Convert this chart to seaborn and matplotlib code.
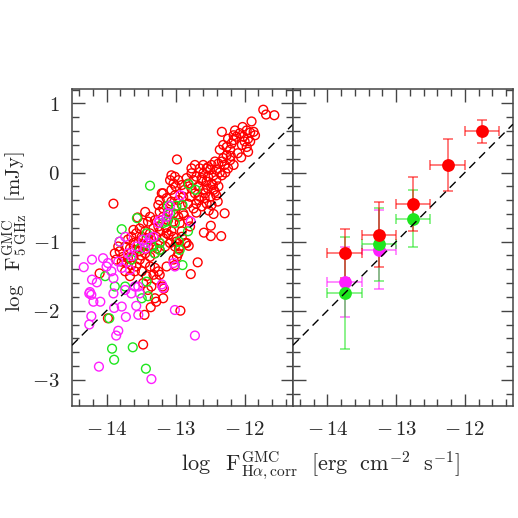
import numpy as np
import pandas as pd
import matplotlib
matplotlib.use("Agg")
import matplotlib.pyplot as plt
import seaborn as sns
from matplotlib.ticker import MultipleLocator

# ---------------- data ----------------
red_x = [-11.73, -11.69, -11.57, -11.90, -12.33, -12.98, -13.90, -12.29, -12.34, -12.49,
         -12.49, -12.59, -12.68, -12.78, -12.81, -12.84, -12.93, -13.47, -13.98, -13.18,
         -13.36, -13.45, -13.28, -13.30, -14.10, -13.19, -13.17,
         -12.03, -11.97, -11.92, -11.87, -11.85, -11.95, -12.02, -12.07, -12.00, -11.92,
         -12.04, -11.97, -12.12, -12.16, -12.14, -12.16, -12.24, -12.19, -12.26, -12.21,
         -12.31, -12.36, -12.26, -12.31, -12.21, -12.29, -12.33, -12.38, -12.43, -12.41,
         -12.24, -12.16,
         -12.72, -12.65, -12.55, -12.60, -12.53, -12.45, -12.41, -12.48, -12.55, -12.62,
         -12.70, -12.77, -12.74, -12.67, -12.60, -12.53, -12.45, -12.41, -12.50, -12.58,
         -12.65, -12.72, -12.77, -12.82, -12.84, -12.79, -12.70, -12.62, -12.55, -12.48,
         -12.74, -12.82, -12.89, -12.87, -12.91, -12.96, -13.01, -13.03, -13.06, -13.01,
         -12.96, -12.91, -12.99, -13.06, -13.13, -13.18, -13.23, -13.25, -13.18, -13.11,
         -13.03, -12.96, -12.89, -12.82, -12.94, -13.03, -13.11, -13.18, -13.23, -13.08,
         -13.06, -12.48, -12.50, -12.77, -12.60, -12.53, -12.33, -12.38, -12.79, -12.91,
         -13.44, -13.37, -13.30, -13.40, -13.47, -13.52, -13.44, -13.37, -13.32, -13.25,
         -13.23, -13.28, -13.35, -13.42, -13.49, -13.57, -13.61, -13.64, -13.69, -13.61,
         -13.54, -13.47, -13.40, -13.32, -13.23, -13.18, -13.13, -13.06, -13.03, -13.08,
         -13.15, -13.23, -13.30, -13.37, -13.44, -13.52, -13.59, -13.66, -13.73, -13.81,
         -13.76, -13.69, -13.61, -13.52, -13.44, -13.37, -13.30, -13.25, -13.32, -13.42,
         -13.49, -13.57, -13.64, -13.71, -13.78, -13.86, -13.88, -13.83, -13.59, -13.66,
         -13.73, -13.47, -13.40, -13.35, -13.28, -13.23, -13.13, -13.03, -12.96, -12.94,
         -12.99, -13.01, -12.91, -12.86, -12.95, -12.98, -13.01, -12.57, -12.43, -12.36,
         -12.10, -12.05, -11.95, -12.20, -12.28, -12.46, -12.66, -12.88, -13.14, -13.20,
         -13.00, -12.70, -12.52, -12.39, -12.45, -12.62, -13.10, -13.27, -13.50, -13.55]
red_y = [0.91, 0.84, 0.83, 0.74, 0.59, 0.19, -0.45, -0.59, -0.92, -0.77,
         -0.92, -0.87, -1.30, -1.47, -1.06, -1.02, -2.00, -2.49, -2.11, -1.82,
         -1.95, -2.06, -1.87, -1.82, -1.46, -1.65, -1.68,
         0.66, 0.61, 0.58, 0.59, 0.54, 0.49, 0.52, 0.57, 0.45, 0.45,
         0.40, 0.37, 0.52, 0.47, 0.61, 0.54, 0.49, 0.42, 0.37, 0.33,
         0.40, 0.33, 0.25, 0.21, 0.18, 0.11, 0.16, 0.13, 0.16, 0.04,
         0.06, 0.11,
         0.11, 0.06, 0.06, -0.01, -0.06, -0.04, -0.11, -0.16, -0.13, -0.11,
         -0.06, -0.01, -0.11, -0.20, -0.25, -0.23, -0.25, -0.33, -0.35, -0.37,
         -0.35, -0.30, -0.23, -0.16, -0.08, -0.35, -0.45, -0.49, -0.45, -0.47,
         -0.52, -0.45, -0.35, -0.25, -0.18, -0.11, -0.06, -0.16, -0.25, -0.33,
         -0.40, -0.47, -0.49, -0.42, -0.37, -0.30, -0.40, -0.47, -0.52, -0.57,
         -0.59, -0.64, -0.59, -0.69, -0.73, -0.71, -0.69, -0.64, -0.57, -0.11,
         -0.04, 0.11, 0.04, 0.06, 0.11, 0.08, -0.04, -0.20, -0.78, -0.85,
         -0.57, -0.64, -0.69, -0.71, -0.73, -0.81, -0.85, -0.88, -0.81, -0.78,
         -0.85, -0.93, -0.97, -0.95, -0.93, -0.88, -0.83, -0.93, -0.97, -1.02,
         -1.02, -1.05, -1.07, -1.07, -1.02, -0.95, -0.88, -0.85, -0.93, -1.02,
         -1.07, -1.12, -1.17, -1.22, -1.17, -1.14, -1.12, -1.10, -1.07, -1.14,
         -1.22, -1.24, -1.22, -1.26, -1.31, -1.36, -1.38, -1.43, -1.48, -1.50,
         -1.43, -1.36, -1.34, -1.31, -1.29, -1.26, -1.17, -1.07, -1.43, -1.50,
         -1.43, -1.60, -1.70, -1.65, -1.55, -1.48, -1.36, -1.26, -1.17, -1.07,
         -1.00, -1.07, -0.93, -1.02, -1.10, -1.22, -1.34, -0.30, -0.28, 0.00,
         0.28, 0.22, 0.30, 0.24, 0.00, -0.18, -0.40, -0.62, -0.80, -0.30,
         -0.20, -0.58, -0.55, -0.42, -0.60, -0.08, -0.90, -1.10, -1.20, -0.65]

green_x = [-13.37, -12.81, -12.71, -13.56, -13.78, -13.81, -12.99, -12.90, -13.11, -13.08,
           -13.18, -13.13, -13.01, -12.82, -13.23, -13.30, -12.94, -12.90, -13.42, -13.52,
           -13.64, -14.02, -13.88, -13.73, -13.42, -13.40, -13.49, -13.96, -13.92, -13.89,
           -13.62, -13.43, -12.95, -13.23, -13.35]
green_y = [-0.19, -0.17, -0.25, -0.66, -0.82, -1.00, -0.48, -0.47, -0.48, -0.59,
           -0.73, -0.71, -0.73, -0.85, -1.02, -1.17, -1.12, -1.34, -0.88, -1.10,
           -1.26, -1.50, -1.65, -1.65, -1.58, -1.79, -1.82, -2.11, -2.55, -2.71,
           -2.53, -2.84, -1.00, -1.12, -1.07]

magenta_x = [-14.33, -14.21, -14.21, -14.24, -14.22, -14.19, -14.25, -14.14, -14.09, -14.22,
             -14.25, -14.05, -13.98, -14.00, -13.93, -13.90, -13.83, -13.81, -13.73, -13.69,
             -13.64, -13.78, -13.66, -13.73, -13.90, -13.64, -13.59, -13.54, -13.52, -13.57,
             -13.54, -13.72, -13.78, -13.89, -13.83, -13.86, -14.11, -13.35, -13.01, -12.72,
             -13.20, -13.18, -13.44, -13.42, -13.37, -13.32, -13.25, -13.23, -13.13, -13.11,
             -13.08, -12.93, -12.78, -13.03, -13.01, -13.47, -13.57]
magenta_y = [-1.37, -1.26, -1.55, -1.73, -1.77, -1.87, -1.75, -1.59, -1.87, -2.08,
             -2.20, -1.24, -1.31, -1.36, -1.43, -1.53, -1.29, -1.00, -0.93, -1.17,
             -1.21, -1.38, -1.41, -1.70, -1.75, -1.75, -1.65, -1.65, -1.75, -1.93,
             -2.06, -2.09, -1.94, -1.96, -2.29, -2.36, -2.81, -2.99, -1.99, -2.36,
             -1.62, -1.67, -1.10, -1.02, -0.95, -0.93, -0.73, -0.69, -0.64, -0.59,
             -0.48, -0.33, -0.71, -1.31, -1.36, -0.97, -1.07]

# binned values (right panel)
bin_x_red = [-13.75, -13.25, -12.75, -12.25, -11.75]
bin_y_red = [-1.16, -0.90, -0.455, 0.11, 0.595]
bin_lo_red = [0.36, 0.47, 0.385, 0.37, 0.16]
bin_hi_red = [0.35, 0.47, 0.385, 0.37, 0.16]
bin_x_green = [-13.75, -13.25, -12.75]
bin_y_green = [-1.75, -1.04, -0.67]
bin_lo_green = [0.80, 0.53, 0.41]
bin_hi_green = [0.81, 0.53, 0.42]
bin_x_magenta = [-13.75, -13.25]
bin_y_magenta = [-1.58, -1.12]
bin_lo_magenta = [0.51, 0.56]
bin_hi_magenta = [0.50, 0.58]
bin_halfwidth = 0.25

one_to_one_offset = 12.0
xlim = (-14.5, -11.3)
ylim = (-3.38, 1.21)
xticks = [-14, -13, -12]
xtick_labels = [r'$-\,14$', r'$-\,13$', r'$-\,12$']
yticks = [-3, -2, -1, 0, 1]
ytick_labels = [r'$-3$', r'$-2$', r'$-1$', r'$0$', r'$1$']

RED = '#ff0000'
GREEN = '#1ee61e'
MAGENTA = '#ff1eff'

# ---------------- figure ----------------
sns.set_style('ticks')
plt.rcParams['mathtext.fontset'] = 'cm'
plt.rcParams['font.family'] = ['DejaVu Serif']

fig = plt.figure(figsize=(5.18, 5.18), dpi=100)
axL = fig.add_axes([0.139, 0.2162, 0.4266, 0.612])
axR = fig.add_axes([0.5656, 0.2162, 0.4246, 0.612], sharey=axL)

df_r = pd.DataFrame({'x': red_x, 'y': red_y})
df_g = pd.DataFrame({'x': green_x, 'y': green_y})
df_m = pd.DataFrame({'x': magenta_x, 'y': magenta_y})
for df, col in [(df_r, RED), (df_g, GREEN), (df_m, MAGENTA)]:
    sns.scatterplot(data=df, x='x', y='y', ax=axL, marker='o', s=40,
                    facecolors='none', edgecolor=col, linewidth=1.0, legend=False)

for bx, by, lo, hi, col in [(bin_x_magenta, bin_y_magenta, bin_lo_magenta, bin_hi_magenta, MAGENTA),
                            (bin_x_green, bin_y_green, bin_lo_green, bin_hi_green, GREEN),
                            (bin_x_red, bin_y_red, bin_lo_red, bin_hi_red, RED)]:
    axR.errorbar(bx, by, yerr=[lo, hi], xerr=bin_halfwidth, fmt='none', ecolor=col,
                 alpha=0.65, elinewidth=1.1, capsize=3.8, capthick=1.1)
    sns.scatterplot(x=bx, y=by, ax=axR, marker='o', s=85, color=col,
                    edgecolor=col, linewidth=0, legend=False, zorder=3)

for ax in (axL, axR):
    lx = np.array(xlim)
    ax.plot(lx, lx + one_to_one_offset, color='black', lw=1.0, dashes=(6, 4), zorder=4)
    ax.set_xlim(*xlim)
    ax.set_ylim(*ylim)
    ax.set_xticks(xticks)
    ax.set_xticklabels(xtick_labels, fontsize=15)
    ax.xaxis.set_minor_locator(MultipleLocator(0.2))
    ax.yaxis.set_minor_locator(MultipleLocator(0.2))
    ax.tick_params(which='both', direction='in', top=True, right=True, color='#444444')
    ax.tick_params(which='major', length=9, width=1)
    ax.tick_params(which='minor', length=5, width=1)
    ax.tick_params(axis='x', pad=10)
    for s in ax.spines.values():
        s.set_color('#444444')
        s.set_linewidth(1.1)
    ax.set_xlabel('')
    ax.set_ylabel('')

axL.set_yticks(yticks)
axL.set_yticklabels(ytick_labels, fontsize=15)
axL.tick_params(axis='y', pad=9)
axR.tick_params(axis='y', labelleft=False)

fig.text(0.030, 0.552, r'$\log\ \ \mathrm{F}^{\rm GMC}_{\rm 5\ GHz}\ \ [\mathrm{mJy}]$',
         fontsize=15, rotation=90, ha='center', va='center')
fig.text(0.618, 0.10, r'$\log\ \ \mathrm{F}^{\rm GMC}_{\rm H\alpha,corr}\ \ [\mathrm{erg\ \ cm^{-2}\ \ s^{-1}}]$',
         fontsize=16, ha='center', va='center')

fig.savefig('out.png', dpi=100)
